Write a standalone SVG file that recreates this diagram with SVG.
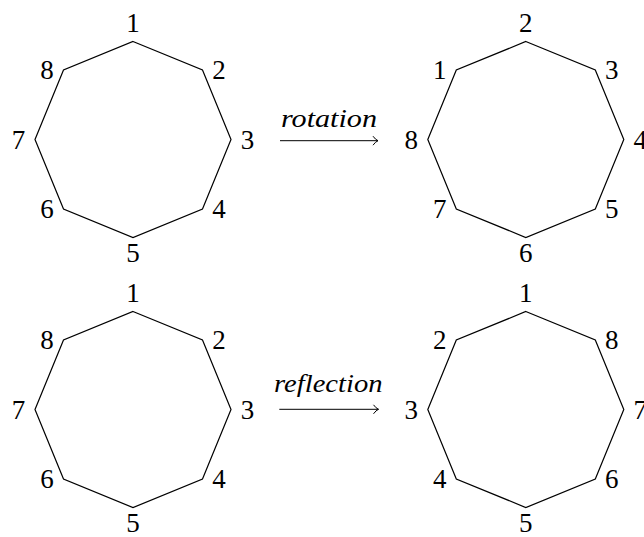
<svg xmlns="http://www.w3.org/2000/svg" width="644" height="537" viewBox="0 0 644 537">
<defs>
<style>
.oct{fill:none;stroke:#000;stroke-width:1.2;stroke-linejoin:miter}
.lbl{font-family:'Liberation Serif','Times New Roman',serif;font-size:27px;fill:#000;text-anchor:middle}
.op{font-family:'Liberation Serif','Times New Roman',serif;font-style:italic;font-size:25px;fill:#000}
.arr{fill:none;stroke:#000;stroke-width:1}
</style>
<marker id="to" markerWidth="12" markerHeight="12" refX="7" refY="6" orient="auto" markerUnits="userSpaceOnUse">
<path d="M2,1.5 Q4.5,5 7,6 Q4.5,7 2,10.5" fill="none" stroke="#000" stroke-width="1"/>
</marker>
<polygon id="octshape" points="0,-98 69.5,-69.5 98,0 69.5,69.5 0,98 -69.5,69.5 -98,0 -69.5,-69.5"/>
</defs>

<g id="oct-top-left" transform="translate(133,139.5)">
<use href="#octshape" class="oct"/>
<text class="lbl" x="0" y="-108">1</text>
<text class="lbl" x="86" y="-60.5">2</text>
<text class="lbl" x="114.5" y="9">3</text>
<text class="lbl" x="86" y="78.5">4</text>
<text class="lbl" x="0" y="122">5</text>
<text class="lbl" x="-86" y="78.5">6</text>
<text class="lbl" x="-114.5" y="9">7</text>
<text class="lbl" x="-86" y="-60.5">8</text>
</g>

<g id="oct-top-right" transform="translate(525.8,139.5)">
<use href="#octshape" class="oct"/>
<text class="lbl" x="0" y="-108">2</text>
<text class="lbl" x="86" y="-60.5">3</text>
<text class="lbl" x="114.5" y="9">4</text>
<text class="lbl" x="86" y="78.5">5</text>
<text class="lbl" x="0" y="122">6</text>
<text class="lbl" x="-86" y="78.5">7</text>
<text class="lbl" x="-114.5" y="9">8</text>
<text class="lbl" x="-86" y="-60.5">1</text>
</g>

<g id="oct-bottom-left" transform="translate(133,409.5)">
<use href="#octshape" class="oct"/>
<text class="lbl" x="0" y="-108">1</text>
<text class="lbl" x="86" y="-60.5">2</text>
<text class="lbl" x="114.5" y="9">3</text>
<text class="lbl" x="86" y="78.5">4</text>
<text class="lbl" x="0" y="122">5</text>
<text class="lbl" x="-86" y="78.5">6</text>
<text class="lbl" x="-114.5" y="9">7</text>
<text class="lbl" x="-86" y="-60.5">8</text>
</g>

<g id="oct-bottom-right" transform="translate(525.8,409.5)">
<use href="#octshape" class="oct"/>
<text class="lbl" x="0" y="-108">1</text>
<text class="lbl" x="86" y="-60.5">8</text>
<text class="lbl" x="114.5" y="9">7</text>
<text class="lbl" x="86" y="78.5">6</text>
<text class="lbl" x="0" y="122">5</text>
<text class="lbl" x="-86" y="78.5">4</text>
<text class="lbl" x="-114.5" y="9">3</text>
<text class="lbl" x="-86" y="-60.5">2</text>
</g>

<g id="connectors">
<g id="rotation-arrow">
<line class="arr" x1="280" y1="140.7" x2="378" y2="140.7" marker-end="url(#to)"/>
<text class="op" x="281" y="126.7" textLength="96" lengthAdjust="spacingAndGlyphs">rotation</text>
</g>
<g id="reflection-arrow">
<line class="arr" x1="279.3" y1="409.3" x2="378.5" y2="409.3" marker-end="url(#to)"/>
<text class="op" x="274" y="391.7" textLength="108.5" lengthAdjust="spacingAndGlyphs">reflection</text>
</g>
</g>
</svg>
